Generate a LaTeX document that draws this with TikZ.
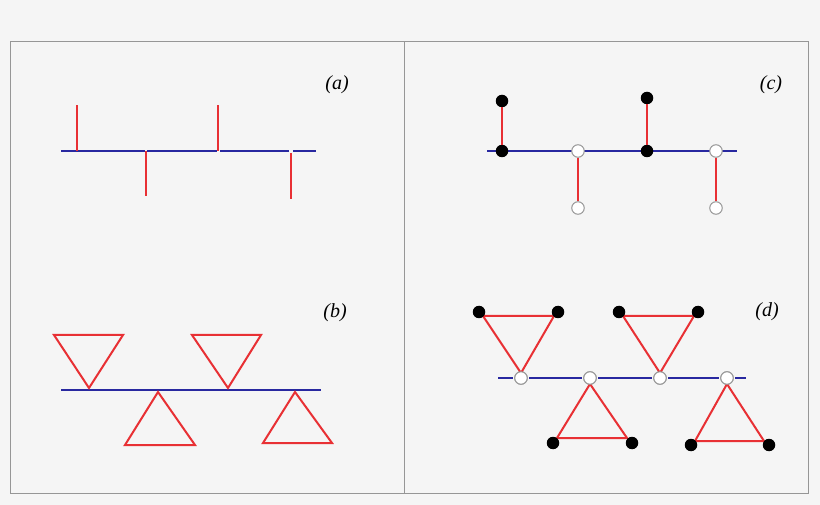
\documentclass[tikz,border=0pt]{standalone}
\usepackage{fontspec}
\setmainfont{Liberation Serif}
\definecolor{bg}{RGB}{245,245,245}
\definecolor{frame}{RGB}{150,150,150}
\definecolor{rd}{RGB}{232,48,52}
\definecolor{bl}{RGB}{40,40,160}
\tikzset{
  redline/.style={draw=rd, line width=2pt},
  blueline/.style={draw=bl, line width=2pt},
  bdot/.style={circle, fill=black, inner sep=0pt, minimum size=12.5pt},
  wdot/.style={circle, fill=white, draw=frame, line width=1pt, inner sep=0pt, minimum size=12.5pt},
  wdotb/.style={circle, fill=white, draw=frame, line width=1pt, inner sep=0pt, minimum size=12.5pt, outer sep=2pt},
  lbl/.style={font=\itshape\fontsize{20}{24}\selectfont, inner sep=0pt}
}
\begin{document}
\begin{tikzpicture}[x=1pt,y=-1pt]
\fill[bg] (0,0) rectangle (820,505);
\useasboundingbox (0,0) rectangle (820,505);
\draw[frame, line width=1pt] (10.5,41.5) rectangle (808.5,493.5);
\draw[frame, line width=1pt] (404.5,41.5) -- (404.5,493.5);

% ---------- (a)
\node[lbl] (la) at (337,85) {(a)};
\coordinate (a0) at (61,151);
\coordinate (a1) at (145,151);
\coordinate (a2) at (147,151);
\coordinate (a3) at (217,151);
\coordinate (a4) at (220,151);
\coordinate (a5) at (289,151);
\coordinate (a6) at (293,151);
\coordinate (a7) at (316,151);
\draw[blueline] (a0) -- (a1);
\draw[blueline] (a2) -- (a3);
\draw[blueline] (a4) -- (a5);
\draw[blueline] (a6) -- (a7);
\coordinate (s1b) at (77,151);  \coordinate (s1t) at (77,105);
\coordinate (s2b) at (146,151); \coordinate (s2t) at (146,196);
\coordinate (s3b) at (218,151); \coordinate (s3t) at (218,105);
\coordinate (s4b) at (291,153); \coordinate (s4t) at (291,199);
\draw[redline] (s1b) -- (s1t);
\draw[redline] (s2b) -- (s2t);
\draw[redline] (s3b) -- (s3t);
\draw[redline] (s4b) -- (s4t);

% ---------- (c)
\node[lbl] (lc) at (771,85) {(c)};
\coordinate (c0) at (487,151);
\coordinate (c9) at (737,151);
\draw[blueline] (c0) -- (c9);
\node[bdot] (c1) at (502,151) {};
\node[bdot] (c1t) at (502,101) {};
\node[wdot] (c2) at (578,151) {};
\node[wdot] (c2b) at (578,208) {};
\node[bdot] (c3) at (647,151) {};
\node[bdot] (c3t) at (647,98) {};
\node[wdot] (c4) at (716,151) {};
\node[wdot] (c4b) at (716,208) {};
\draw[redline] (c1) -- (c1t);
\draw[redline] (c2) -- (c2b);
\draw[redline] (c3) -- (c3t);
\draw[redline] (c4) -- (c4b);

% ---------- (b)
\node[lbl] (lb) at (335,313) {(b)};
\coordinate (b0) at (61,390);
\coordinate (b9) at (321,390);
\draw[blueline] (b0) -- (b9);
\coordinate (t1a) at (54,335); \coordinate (t1b) at (123,335); \coordinate (t1c) at (89,388);
\coordinate (t2a) at (125,445); \coordinate (t2b) at (195,445); \coordinate (t2c) at (158,392);
\coordinate (t3a) at (192,335); \coordinate (t3b) at (261,335); \coordinate (t3c) at (228,388);
\coordinate (t4a) at (263,443); \coordinate (t4b) at (332,443); \coordinate (t4c) at (295,392);
\draw[redline, line join=miter] (t1a) -- (t1b) -- (t1c) -- cycle;
\draw[redline, line join=miter] (t2a) -- (t2b) -- (t2c) -- cycle;
\draw[redline, line join=miter] (t3a) -- (t3b) -- (t3c) -- cycle;
\draw[redline, line join=miter] (t4a) -- (t4b) -- (t4c) -- cycle;

% ---------- (d)
\node[lbl] (ld) at (767,312) {(d)};
\coordinate (d0) at (498,378);
\coordinate (d9) at (746,378);
\node[wdotb] (w1) at (521,378) {};
\node[wdotb] (w2) at (590,378) {};
\node[wdotb] (w3) at (660,378) {};
\node[wdotb] (w4) at (727,378) {};
\draw[blueline] (d0) -- (w1) -- (w2) -- (w3) -- (w4) -- (d9);
\coordinate (u1a) at (483,316); \coordinate (u1b) at (554,316); \coordinate (u1c) at (521,373);
\coordinate (u2a) at (557,438); \coordinate (u2b) at (627,438); \coordinate (u2c) at (590,384);
\coordinate (u3a) at (623,316); \coordinate (u3b) at (694,316); \coordinate (u3c) at (660,373);
\coordinate (u4a) at (695,441); \coordinate (u4b) at (764,441); \coordinate (u4c) at (727,384);
\draw[redline, line join=miter] (u1a) -- (u1b) -- (u1c) -- cycle;
\draw[redline, line join=miter] (u2a) -- (u2b) -- (u2c) -- cycle;
\draw[redline, line join=miter] (u3a) -- (u3b) -- (u3c) -- cycle;
\draw[redline, line join=miter] (u4a) -- (u4b) -- (u4c) -- cycle;
\node[wdot] at (w1) {};
\node[wdot] at (w2) {};
\node[wdot] at (w3) {};
\node[wdot] at (w4) {};
\node[bdot] (k1) at (479,312) {};
\node[bdot] (k2) at (558,312) {};
\node[bdot] (k3) at (619,312) {};
\node[bdot] (k4) at (698,312) {};
\node[bdot] (k5) at (553,443) {};
\node[bdot] (k6) at (632,443) {};
\node[bdot] (k7) at (691,445) {};
\node[bdot] (k8) at (769,445) {};
\end{tikzpicture}
\end{document}
